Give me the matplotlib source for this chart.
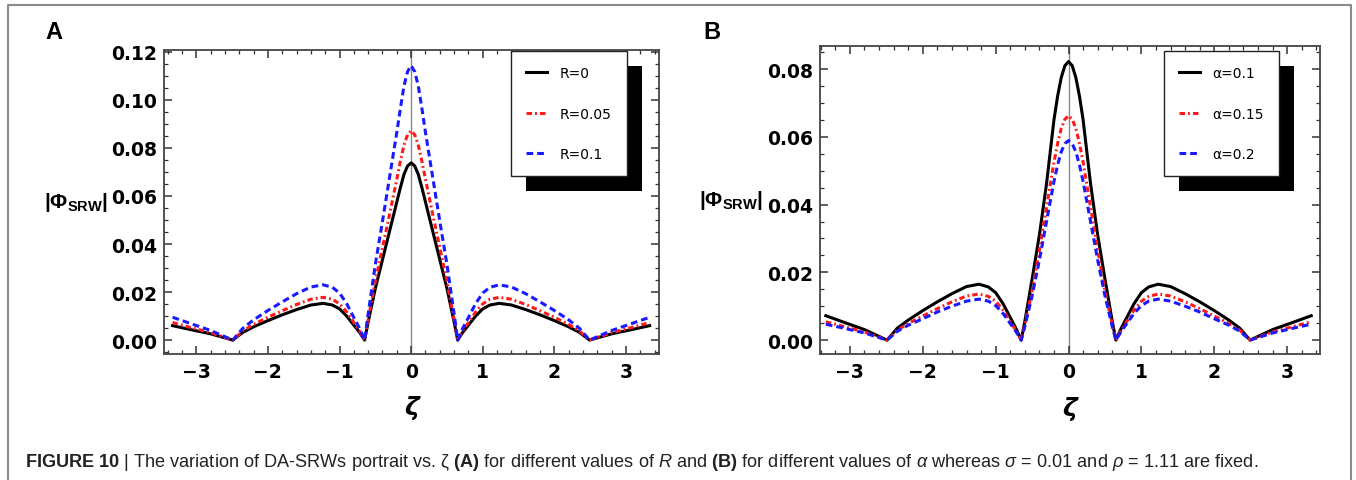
import numpy as np
import matplotlib
matplotlib.use('Agg')
import matplotlib.pyplot as plt
from matplotlib.patches import Rectangle
from matplotlib.lines import Line2D
from matplotlib.ticker import MultipleLocator

plt.rcParams['font.family'] = ['DejaVu Sans']
plt.rcParams['mathtext.fontset'] = 'custom'
plt.rcParams['mathtext.rm'] = 'Liberation Sans'
plt.rcParams['mathtext.it'] = 'Liberation Sans:italic'
plt.rcParams['mathtext.bf'] = 'Liberation Sans:bold'

# ===================== data =====================
zeta = [-3.33, -3.1, -2.8, -2.49, -2.35, -2.2, -2.0, -1.8, -1.6, -1.4, -1.23, -1.1, -1.0,
        -0.9, -0.8, -0.72, -0.65, -0.6, -0.5, -0.4, -0.3, -0.2, -0.15, -0.1, -0.05, 0.0,
        0.05, 0.1, 0.15, 0.2, 0.3, 0.4, 0.5, 0.6, 0.65, 0.72, 0.8, 0.9, 1.0, 1.1, 1.23,
        1.4, 1.6, 1.8, 2.0, 2.2, 2.35, 2.49, 2.8, 3.1, 3.33]

# panel A : R = 0, 0.05, 0.1
phi_R0 = [0.0060, 0.0045, 0.0026, 0.0, 0.0032, 0.0055, 0.0081, 0.0105, 0.0127, 0.0146, 0.0153,
          0.0146, 0.0130, 0.0100, 0.0062, 0.0032, 0.0, 0.0075, 0.0215, 0.0335, 0.0455, 0.0575,
          0.0635, 0.0690, 0.0725, 0.0738, 0.0725, 0.0690, 0.0635, 0.0575, 0.0455, 0.0335,
          0.0215, 0.0075, 0.0, 0.0032, 0.0062, 0.0100, 0.0130, 0.0146, 0.0153, 0.0146, 0.0127,
          0.0105, 0.0081, 0.0055, 0.0032, 0.0, 0.0026, 0.0045, 0.0060]
phi_R005 = [0.0073, 0.0054, 0.0031, 0.0, 0.0038, 0.0065, 0.0095, 0.0122, 0.0148, 0.0170, 0.0178,
            0.0170, 0.0151, 0.0117, 0.0073, 0.0038, 0.0, 0.0085, 0.0245, 0.0385, 0.0525, 0.0670,
            0.0745, 0.0812, 0.0855, 0.0872, 0.0855, 0.0812, 0.0745, 0.0670, 0.0525, 0.0385,
            0.0245, 0.0085, 0.0, 0.0038, 0.0073, 0.0117, 0.0151, 0.0170, 0.0178, 0.0170, 0.0148,
            0.0122, 0.0095, 0.0065, 0.0038, 0.0, 0.0031, 0.0054, 0.0073]
phi_R01 = [0.0095, 0.0071, 0.0040, 0.0, 0.0049, 0.0084, 0.0123, 0.0159, 0.0193, 0.0221, 0.0230,
           0.0220, 0.0196, 0.0152, 0.0094, 0.0049, 0.0, 0.0110, 0.0315, 0.0495, 0.0680, 0.0865,
           0.0965, 0.1058, 0.1118, 0.1143, 0.1118, 0.1058, 0.0965, 0.0865, 0.0680, 0.0495,
           0.0315, 0.0110, 0.0, 0.0049, 0.0094, 0.0152, 0.0196, 0.0220, 0.0230, 0.0221, 0.0193,
           0.0159, 0.0123, 0.0084, 0.0049, 0.0, 0.0040, 0.0071, 0.0095]

# panel B : alpha = 0.1, 0.15, 0.2
phi_a01 = [0.0072, 0.0054, 0.0031, 0.0, 0.0035, 0.0059, 0.0087, 0.0113, 0.0137, 0.0158, 0.0165,
           0.0157, 0.0140, 0.0108, 0.0067, 0.0034, 0.0, 0.0055, 0.0180, 0.0310, 0.0465, 0.0650,
           0.0720, 0.0775, 0.0810, 0.0822, 0.0810, 0.0775, 0.0720, 0.0650, 0.0465, 0.0310,
           0.0180, 0.0055, 0.0, 0.0034, 0.0067, 0.0108, 0.0140, 0.0157, 0.0165, 0.0158, 0.0137,
           0.0113, 0.0087, 0.0059, 0.0035, 0.0, 0.0031, 0.0054, 0.0072]
phi_a015 = [0.0054, 0.0041, 0.0024, 0.0, 0.0029, 0.0049, 0.0071, 0.0093, 0.0113, 0.0130, 0.0136,
            0.0129, 0.0115, 0.0089, 0.0055, 0.0028, 0.0, 0.0045, 0.0145, 0.0265, 0.0395, 0.0525,
            0.0580, 0.0625, 0.0652, 0.0662, 0.0652, 0.0625, 0.0580, 0.0525, 0.0395, 0.0265,
            0.0145, 0.0045, 0.0, 0.0028, 0.0055, 0.0089, 0.0115, 0.0129, 0.0136, 0.0130, 0.0113,
            0.0093, 0.0071, 0.0049, 0.0029, 0.0, 0.0024, 0.0041, 0.0054]
phi_a02 = [0.0047, 0.0036, 0.0021, 0.0, 0.0026, 0.0044, 0.0063, 0.0083, 0.0100, 0.0115, 0.0121,
           0.0115, 0.0102, 0.0079, 0.0049, 0.0025, 0.0, 0.0040, 0.0130, 0.0236, 0.0352, 0.0468,
           0.0517, 0.0556, 0.0580, 0.0589, 0.0580, 0.0556, 0.0517, 0.0468, 0.0352, 0.0236,
           0.0130, 0.0040, 0.0, 0.0025, 0.0049, 0.0079, 0.0102, 0.0115, 0.0121, 0.0115, 0.0100,
           0.0083, 0.0063, 0.0044, 0.0026, 0.0, 0.0021, 0.0036, 0.0047]

labels_A = ['R=0', 'R=0.05', 'R=0.1']
labels_B = ['α=0.1', 'α=0.15', 'α=0.2']

styles = [dict(color='black', lw=2.2, ls='-'),
          dict(color='#ff1a1a', lw=2.2, dashes=(1.8, 1.0, 0.6, 1.0)),
          dict(color='#1a1aff', lw=2.2, dashes=(2.2, 1.3))]

W, H = 1356, 481
fig = plt.figure(figsize=(W / 100, H / 100), dpi=100)

axA = fig.add_axes([164 / W, 1 - 355 / H, 495 / W, 304 / H])
axB = fig.add_axes([820 / W, 1 - 355 / H, 500 / W, 308 / H])


def draw_panel(ax, series, labels, xlim, ylim, leg_anchor):
    ax.axvline(0, color='#888888', lw=1.0, zorder=1)
    for y, lab, st in zip(series, labels, styles):
        ax.plot(zeta, y, label=lab, zorder=3, **st)
    ax.set_xlim(*xlim)
    ax.set_ylim(*ylim)
    ax.xaxis.set_major_locator(MultipleLocator(1))
    ax.xaxis.set_minor_locator(MultipleLocator(0.2))
    ax.yaxis.set_major_locator(MultipleLocator(0.02))
    ax.yaxis.set_minor_locator(MultipleLocator(0.005))
    ax.yaxis.set_major_formatter(plt.FormatStrFormatter('%.2f'))
    ax.xaxis.set_major_formatter(plt.FuncFormatter(lambda v, p: f'{v:.0f}'.replace('-', '\u2212')))
    ax.tick_params(which='both', direction='in', top=True, right=True, colors='#333333',
                   labelcolor='black')
    ax.tick_params(which='major', length=6, width=1.1)
    ax.tick_params(which='minor', length=3, width=0.9)
    ax.tick_params(axis='x', pad=6)
    ax.tick_params(axis='y', pad=5)
    for lab in ax.get_xticklabels() + ax.get_yticklabels():
        lab.set_fontsize(13.5)
        lab.set_fontweight('bold')
    for sp in ax.spines.values():
        sp.set_color('#444444')
        sp.set_linewidth(1.3)
    ax.set_xlabel('ζ', fontsize=18, fontweight='bold', fontstyle='italic')
    ax.xaxis.set_label_coords(0.5, -0.135)
    ax.set_ylabel(r'$\mathbf{|\Phi_{SRW}|}$', fontsize=15, rotation=0, ha='right', va='center')
    ax.yaxis.set_label_coords(-0.113, 0.5)
    leg = ax.legend(loc='upper left', bbox_to_anchor=leg_anchor, borderaxespad=0,
                    fontsize=10, frameon=True, fancybox=False, framealpha=1,
                    edgecolor='#222222', borderpad=1.1, labelspacing=1.9,
                    handlelength=1.5, handletextpad=0.9)
    leg.get_frame().set_linewidth(1.0)
    leg.set_zorder(6)
    return leg


legA = draw_panel(axA, [phi_R0, phi_R005, phi_R01], labels_A,
                  (-3.45, 3.46), (-0.0058, 0.1208), (0.701, 0.997))
legB = draw_panel(axB, [phi_a01, phi_a015, phi_a02], labels_B,
                  (-3.41, 3.45), (-0.0041, 0.0868), (0.688, 0.984))

fig.text(54 / W, 1 - 33 / H, 'A', fontsize=17, fontweight='bold', family='Liberation Sans',
         ha='center', va='center')
fig.text(712 / W, 1 - 33 / H, 'B', fontsize=17, fontweight='bold', family='Liberation Sans',
         ha='center', va='center')

# black drop shadow behind the legends
fig.canvas.draw()
for ax, leg in [(axA, legA), (axB, legB)]:
    bb = leg.get_window_extent()
    inv = ax.transAxes.inverted()
    (x0, y0), (x1, y1) = inv.transform([(bb.x0 + 15, bb.y0 - 15), (bb.x1 + 15, bb.y1 - 15)])
    ax.add_patch(Rectangle((x0, y0), x1 - x0, y1 - y0, transform=ax.transAxes,
                           facecolor='black', edgecolor='none', zorder=5, clip_on=False))

# outer frame (open at the bottom)
fig.add_artist(Line2D([8 / W, 8 / W, 1351 / W, 1351 / W], [0, 1 - 6 / H, 1 - 6 / H, 0],
                      color='#8a8a8a', lw=1.5))

caption = (r'$\mathbf{FIGURE\ 10}$ | The variation of DA-SRWs portrait vs. ζ $\mathbf{(A)}$ '
           r'for different values of $R$ and $\mathbf{(B)}$ for different values of $\alpha$ '
           r'whereas $\sigma$ = 0.01 and $\rho$ = 1.11 are fixed.')
fig.text(25 / W, 1 - 467 / H, caption, fontsize=13.1, family='Liberation Sans',
         ha='left', va='baseline', color='#222222')

fig.savefig('out.png', dpi=100)
